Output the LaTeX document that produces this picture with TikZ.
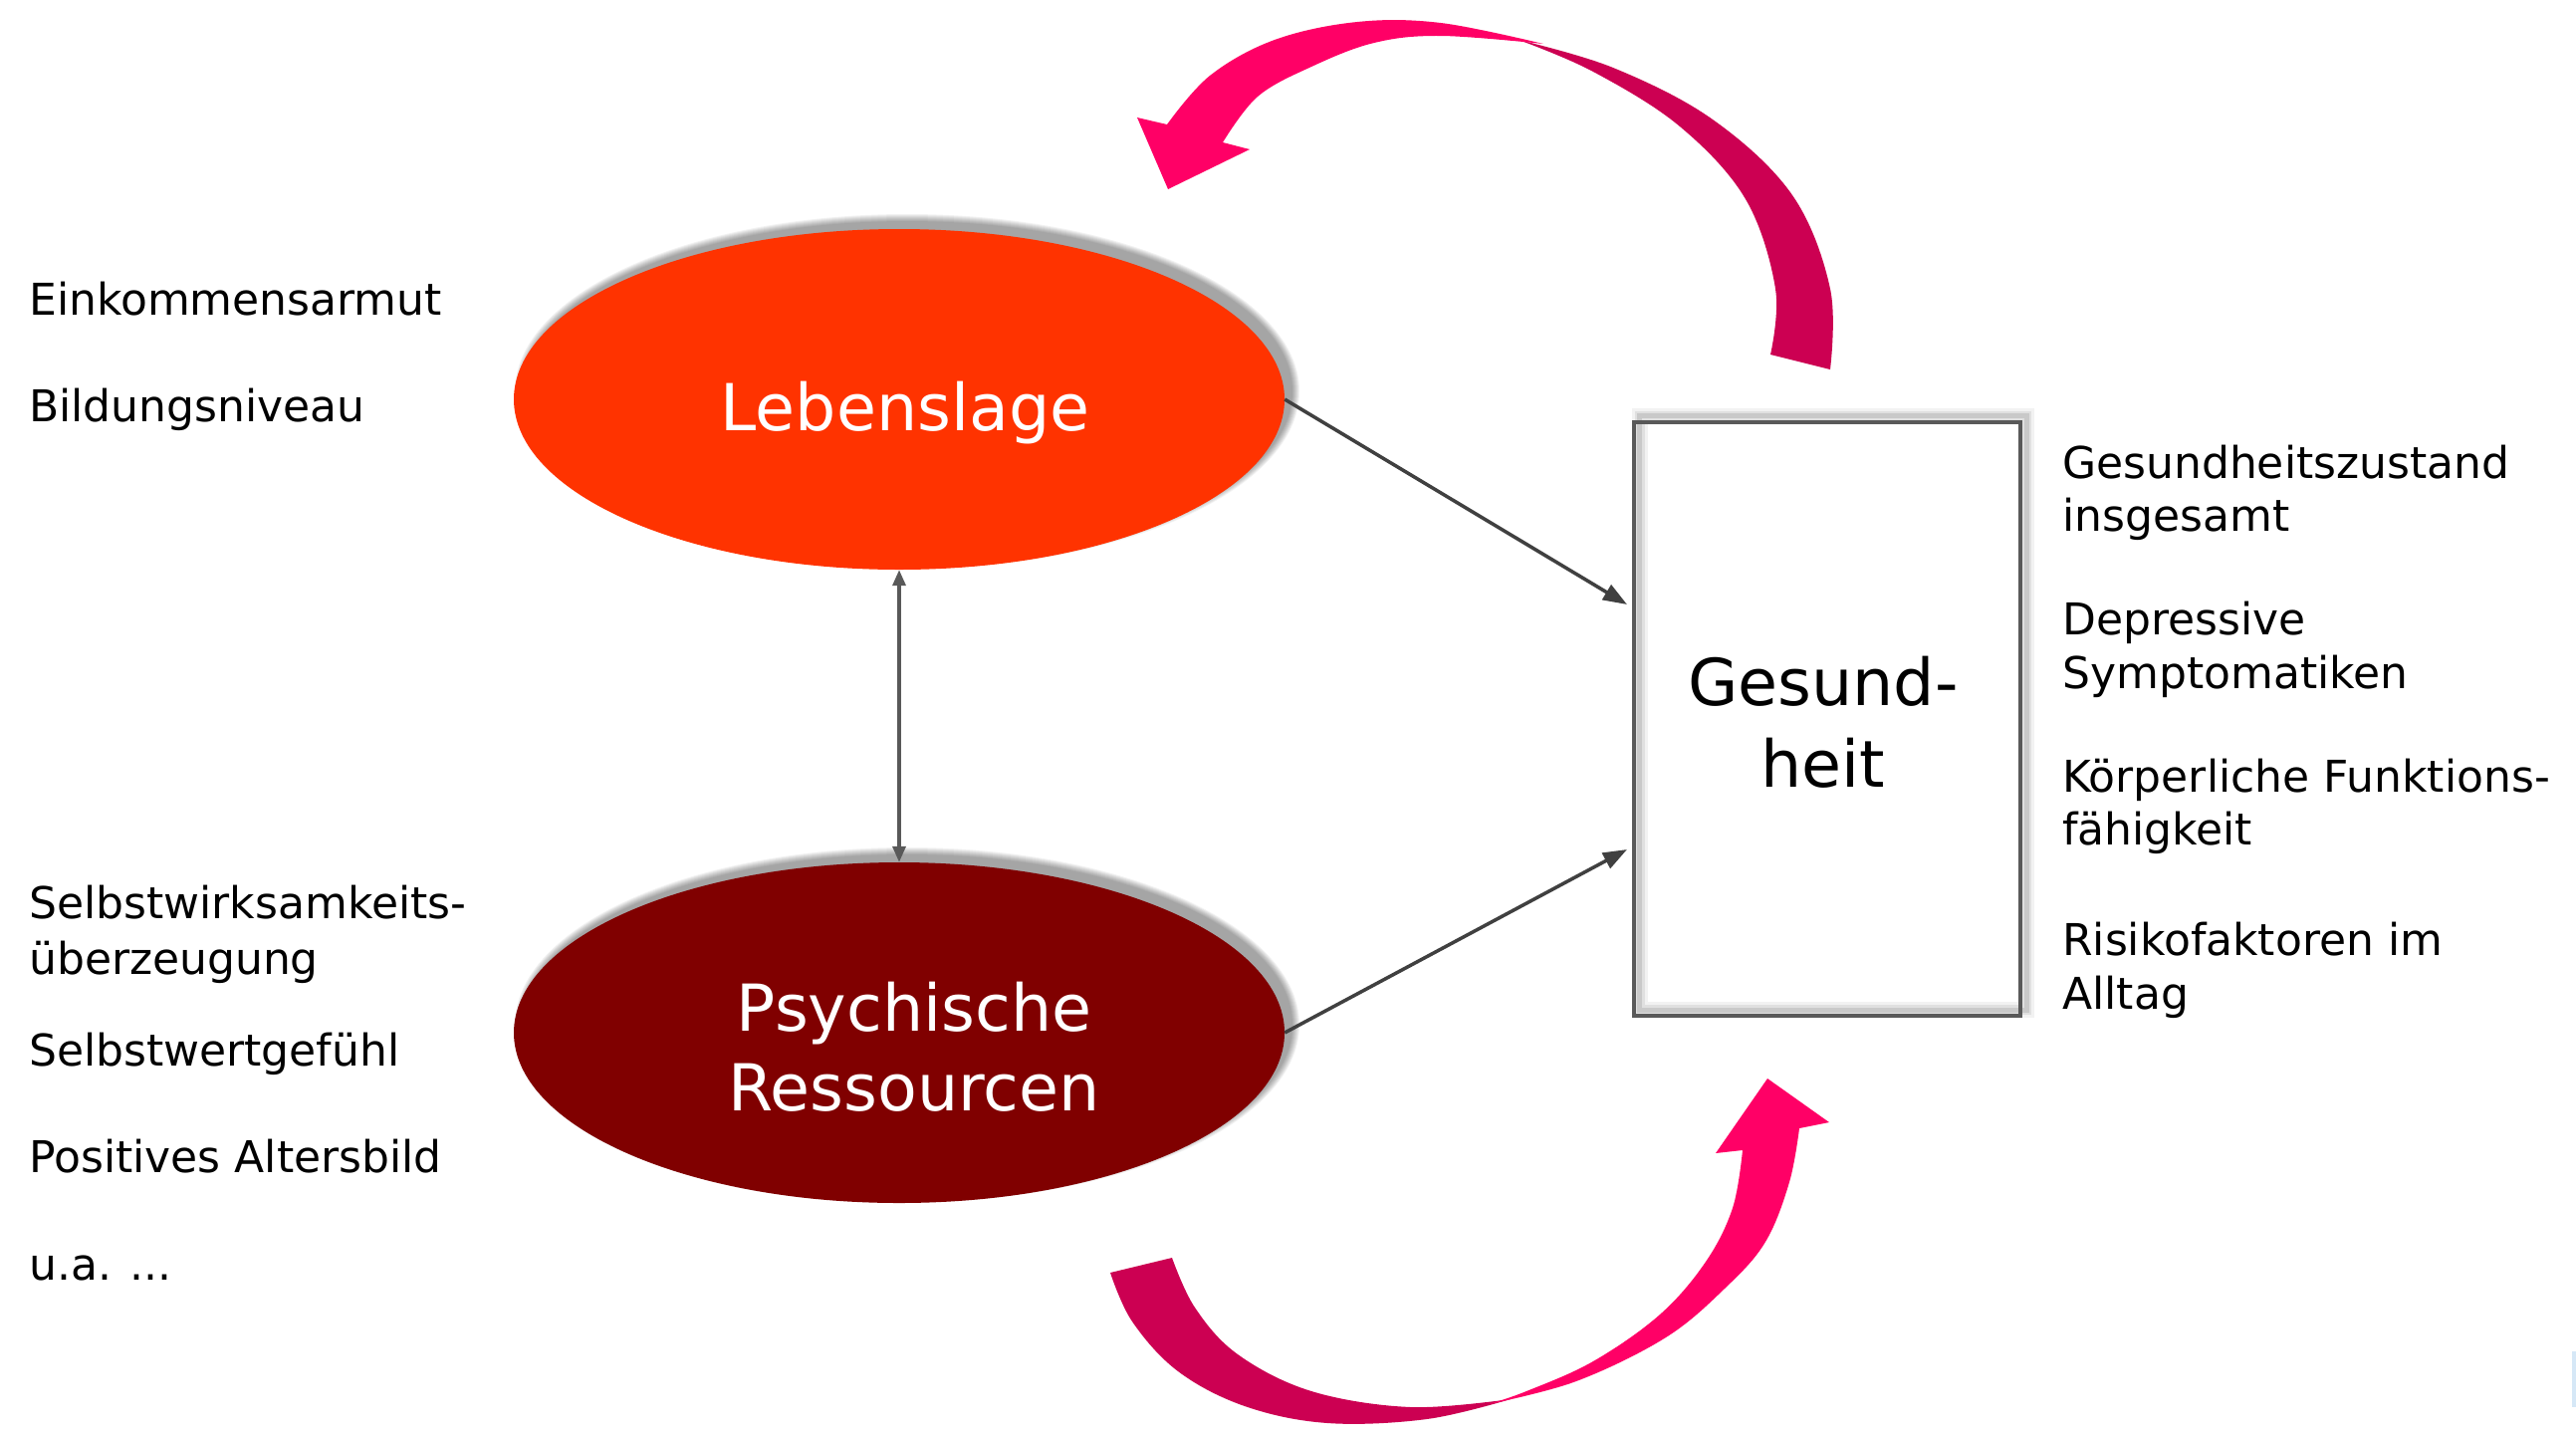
\documentclass[tikz,border=0pt]{standalone}
\usepackage{fontspec}
\setmainfont{DejaVu Sans}
\usetikzlibrary{arrows.meta,shapes.geometric,calc}
\definecolor{lebred}{HTML}{FF3300}
\definecolor{psyred}{HTML}{800000}
\definecolor{pinkarrow}{HTML}{FF0066}
\definecolor{darkarrow}{HTML}{CC0052}
\definecolor{connline}{HTML}{404040}
\definecolor{boxline}{HTML}{595959}
\definecolor{artblue}{HTML}{D6E8F7}
\begin{document}
\begin{tikzpicture}[x=1pt,y=-1pt,
  sidetxt/.style={anchor=base west, inner sep=0pt, font=\fontsize{44}{54}\selectfont},
  eltxt/.style={anchor=base, inner sep=0pt, text=white, font=\fontsize{65}{80}\selectfont},
  gtxt/.style={anchor=base, inner sep=0pt, text=black, font=\fontsize{65}{80}\selectfont},
  blob/.style={ellipse, minimum width=774pt, minimum height=342pt, inner sep=0pt, draw=none},
  conn/.style={draw=connline, line width=3.5pt, -{Triangle[length=24pt,width=17pt]}},
  dconn/.style={draw=boxline, line width=3.5pt, {Triangle[length=16pt,width=13pt]}-{Triangle[length=16pt,width=13pt]}},
  shade/.style={black, opacity=0.05},
  bandsmooth/.style={smooth, tension=0.6}
]
\useasboundingbox (0,0) rectangle (2587,1441);
\fill[white] (0,0) rectangle (2587,1441);

% ellipse centres and soft shadows (offset up and to the right)
\coordinate (lebc) at (903,401);
\coordinate (psyc) at (903,1037);
\foreach \k in {1,...,8}{
  \fill[shade] ($(lebc)+(8,-8)$) ellipse [x radius={386+\k}, y radius={170+\k}];
  \fill[shade] ($(psyc)+(8,-8)$) ellipse [x radius={386+\k}, y radius={170+\k}];
}
\node[blob, fill=lebred] (leb) at (lebc) {};
\node[blob, fill=psyred] (psy) at (psyc) {};
\node[eltxt] (lebt) at (909,432) {Lebenslage};
\node[eltxt] (psyt1) at (918,1035) {Psychische};
\node[eltxt] (psyt2) at (918,1115) {Ressourcen};

% health box
\node[minimum width=388pt, minimum height=596pt, fill=white, inner sep=0pt] (gbox) at (1835,722) {};
\foreach \w/\o in {16/0.05, 10/0.07, 5/0.1}{
  \draw[black, opacity=\o, line width=\w pt] ($(gbox.north west)+(6,-6)$) rectangle ($(gbox.south east)+(6,-6)$);
}
\draw[boxline, line width=4.5pt] (gbox.north west) rectangle (gbox.south east);
\node[gtxt] (gt1) at (1831,708) {Gesund-};
\node[gtxt] (gt2) at (1831,790) {heit};

% connectors
\coordinate (g1) at (1634,607);
\coordinate (g2) at (1634,853);
\draw[conn] (leb.east) -- (g1);
\draw[conn] (psy.east) -- (g2);
\draw[dconn] (leb.south) -- (psy.north);

% left texts
\node[sidetxt] (l1) at (29,316) {Einkommensarmut};
\node[sidetxt] (l2) at (29,423) {Bildungsniveau};
\node[sidetxt] (l3) at (29,922) {Selbstwirksamkeits-};
\node[sidetxt] (l4) at (29,978) {überzeugung};
\node[sidetxt] (l5) at (29,1070) {Selbstwertgefühl};
\node[sidetxt] (l6) at (29,1177) {Positives Altersbild};
\node[sidetxt] (l7) at (29,1285) {u.a. ...};

% right texts
\node[sidetxt] (r1) at (2071,480) {Gesundheitszustand};
\node[sidetxt] (r2) at (2071,533) {insgesamt};
\node[sidetxt] (r3) at (2071,637) {Depressive};
\node[sidetxt] (r4) at (2071,691) {Symptomatiken};
\node[sidetxt] (r5) at (2071,795) {Körperliche Funktions-};
\node[sidetxt] (r6) at (2071,848) {fähigkeit};
\node[sidetxt] (r7) at (2071,959) {Risikofaktoren im};
\node[sidetxt] (r8) at (2071,1013) {Alltag};

% top curved arrow: dark tail band, pink head band
\fill[darkarrow] plot[bandsmooth] coordinates {(1838,371) (1838,290) (1800,196) (1720,120) (1620,68) (1525,40)}
  -- plot[bandsmooth] coordinates {(1525,40) (1600,72) (1687,127) (1753,200) (1783,290) (1778,356)} -- cycle;
\fill[pinkarrow] plot[bandsmooth] coordinates {(1550,44) (1447,23) (1363,22) (1280,40) (1215,76) (1172,125)}
  -- (1142,118) -- (1173,190) -- (1255,150) -- (1228,143)
  -- plot[bandsmooth] coordinates {(1228,143) (1263,97) (1317,67) (1380,43) (1447,36) (1550,44)} -- cycle;

% bottom curved arrow: dark tail band, pink head band
\fill[darkarrow] plot[bandsmooth] coordinates {(1115,1278) (1137,1327) (1183,1377) (1250,1412) (1333,1429) (1433,1425) (1517,1405)}
  -- plot[bandsmooth] coordinates {(1517,1405) (1417,1413) (1317,1397) (1243,1360) (1200,1313) (1177,1263)} -- cycle;
\fill[pinkarrow] plot[bandsmooth] coordinates {(1495,1410) (1583,1387) (1673,1343) (1733,1293) (1773,1247) (1797,1187) (1807,1133)}
  -- (1837,1127) -- (1775,1083) -- (1723,1158) -- (1750,1155)
  -- plot[bandsmooth] coordinates {(1750,1155) (1740,1213) (1713,1267) (1667,1320) (1600,1367) (1533,1397) (1495,1410)} -- cycle;

% small blue mark at the right edge
\fill[artblue] (2583,1357) rectangle (2587,1413);
\end{tikzpicture}
\end{document}
